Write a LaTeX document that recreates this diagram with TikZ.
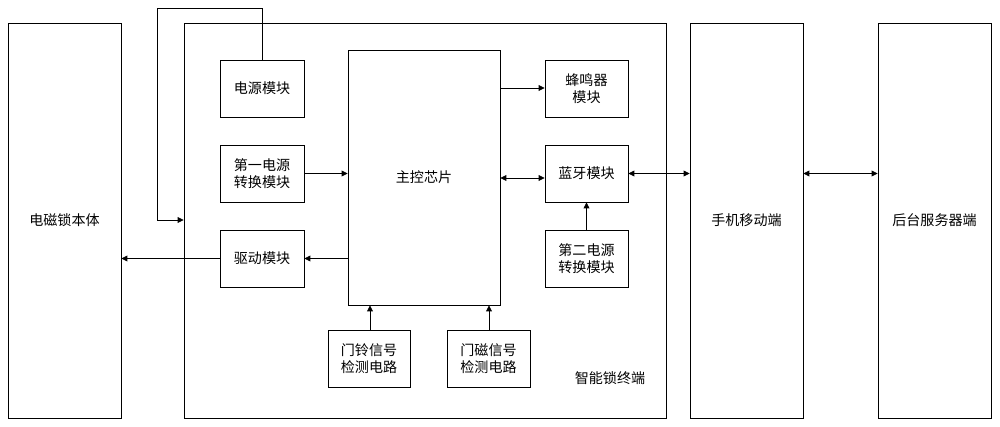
\documentclass[tikz,border=0pt]{standalone}
\usepackage{fontspec}
\setmainfont{Noto Sans CJK SC}
\usetikzlibrary{arrows.meta}
\begin{document}
\begin{tikzpicture}[x=0.03cm,y=-0.03cm,
 box/.style={draw,line width=0.8pt,font=\fontsize{12}{15}\selectfont,align=center},
 arr/.style={line width=0.6pt,-{Triangle[length=5pt,width=5pt]}},
 darr/.style={line width=0.6pt,{Triangle[length=5pt,width=5pt]}-{Triangle[length=5pt,width=5pt]}}]
\useasboundingbox (0,0) rectangle (1000,427);
\def\bx#1#2#3#4#5#6{\node[box,minimum width={(#4-#2)*0.03cm},minimum height={(#5-#3)*0.03cm}] (#1) at ({(#2+#4)/2},{(#3+#5)/2}) {#6};}
\bx{lock}{8}{23}{121}{418}{电磁锁本体}
\node[draw,line width=0.8pt,minimum width={482*0.03cm},minimum height={395*0.03cm}] (term) at (425,220.5) {};
\bx{phone}{690}{23}{803}{418}{手机移动端}
\bx{server}{878}{23}{991}{418}{后台服务器端}
\bx{pwr}{220}{60}{304}{117}{电源模块}
\bx{c1}{220}{145}{304}{202}{第一电源\\转换模块}
\bx{drv}{220}{230}{304}{287}{驱动模块}
\bx{mcu}{348}{50}{500}{305}{主控芯片}
\bx{buz}{545}{60}{628}{117}{蜂鸣器\\模块}
\bx{bt}{545}{145}{628}{202}{蓝牙模块}
\bx{c2}{545}{230}{628}{287}{第二电源\\转换模块}
\bx{bell}{328}{330}{410}{387}{门铃信号\\检测电路}
\bx{mag}{447}{330}{530}{387}{门磁信号\\检测电路}
\node[font=\fontsize{12}{15}\selectfont] (lbl) at (610,378) {智能锁终端};
\coordinate (w1) at (262,8); \coordinate (w2) at (157,8); \coordinate (w3) at (157,220);
\draw[arr] (pwr.north) -- (w1) -- (w2) -- (w3) -- (term.west |- w3);
\draw[arr] (c1.east) -- (mcu.west |- c1.east);
\draw[arr] (mcu.west |- drv.east) -- (drv.east);
\draw[arr] (drv.west) -- (lock.east |- drv.west);
\draw[arr] (mcu.east |- 0,88) -- (buz.west |- 0,88);
\draw[darr] (mcu.east |- 0,178) -- (bt.west |- 0,178);
\draw[darr] (bt.east) -- (phone.west |- bt.east);
\draw[darr] (phone.east |- bt.east) -- (server.west |- bt.east);
\draw[arr] (c2.north) -- (bt.south);
\draw[arr] (bell.north -| 370,0) -- (mcu.south -| 370,0);
\draw[arr] (mag.north -| 489,0) -- (mcu.south -| 489,0);
\end{tikzpicture}
\end{document}
